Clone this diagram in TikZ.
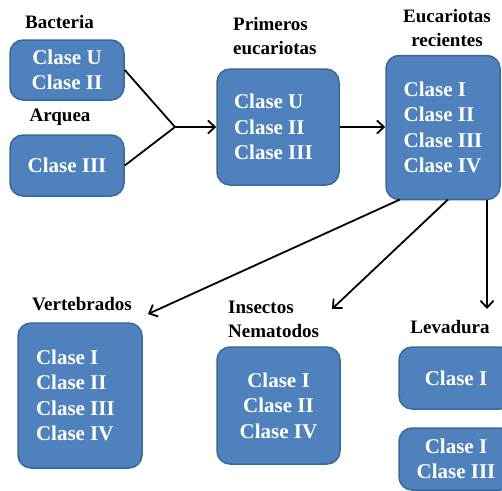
\documentclass[tikz,border=0pt]{standalone}
\usepackage{fontspec}
\setmainfont{Liberation Serif}
\usetikzlibrary{arrows.meta}
\definecolor{boxfill}{HTML}{4F81BD}
\definecolor{boxline}{HTML}{3A679C}
\begin{document}
\begin{tikzpicture}[x=1pt,y=-1pt,
  blbox/.style={draw=boxline, line width=1.5pt, fill=boxfill, rounded corners=13pt,
    text=white, font=\fontsize{21}{25.5}\selectfont\bfseries, inner sep=0pt},
  lbl/.style={font=\fontsize{19}{24}\selectfont\bfseries, inner sep=0pt},
  conn/.style={line width=1.8pt},
  arr/.style={conn, -{Straight Barb[length=7pt,width=13pt]}}]
\clip (0,0) rectangle (502,490);
\useasboundingbox (0,0) rectangle (502,490);

% boxes
\node[blbox, minimum width=114pt, minimum height=60pt, align=center] (bact) at (67,70) {Clase U\\Clase II};
\node[blbox, minimum width=114pt, minimum height=61pt, align=center] (arq) at (67,165.5) {Clase III};
\node[blbox, minimum width=122pt, minimum height=116pt, text width=88pt, align=flush left] (prim) at (278,127) {Clase U\\Clase II\\Clase III};
\node[blbox, minimum width=114pt, minimum height=144pt, align=left] (euc) at (443,127.5) {Clase I\\Clase II\\Clase III\\Clase IV};
\node[blbox, minimum width=124pt, minimum height=145pt, text width=88pt, align=flush left] (vert) at (80,395.5) {Clase I\\Clase II\\Clase III\\Clase IV};
\node[blbox, minimum width=123pt, minimum height=117pt, align=center] (ins) at (278.5,405.5) {Clase I\\Clase II\\Clase IV};
\node[blbox, minimum width=114pt, minimum height=62pt, align=center] (lev1) at (456,378) {Clase I};
\node[blbox, minimum width=114pt, minimum height=62pt, align=center] (lev2) at (456,459) {Clase I\\Clase III};

% labels
\node[lbl] (lbact) at (59.5,22) {Bacteria};
\node[lbl] (larq) at (60,117) {Arquea};
\node[lbl, align=left, anchor=west] (lprim) at (233,36) {Primeros\\eucariotas};
\node[lbl, align=center] (leuc) at (447,27.5) {Eucariotas\\recientes};
\node[lbl] (lvert) at (82,304) {Vertebrados};
\node[lbl, align=left, anchor=west] (lins) at (228,319) {Insectos\\Nematodos};
\node[lbl] (llev) at (450,327) {Levadura};

% connectors
\coordinate (junc) at (175,127);
\draw[conn] (bact.east) -- (junc);
\draw[conn] (arq.east) -- (junc);
\draw[arr] (junc) -- (prim.west);
\draw[arr] (prim.east) -- (prim.east -| euc.west);

\coordinate (s1) at (400,199.5);
\coordinate (s2) at (448,199.5);
\coordinate (s3) at (487,199.5);
\coordinate (e1) at (148,314);
\coordinate (e2) at (332,309);
\coordinate (e3) at (487,309);
\draw[arr] (s1) -- (e1);
\draw[arr] (s2) -- (e2);
\draw[arr] (s3) -- (e3);
\end{tikzpicture}
\end{document}
